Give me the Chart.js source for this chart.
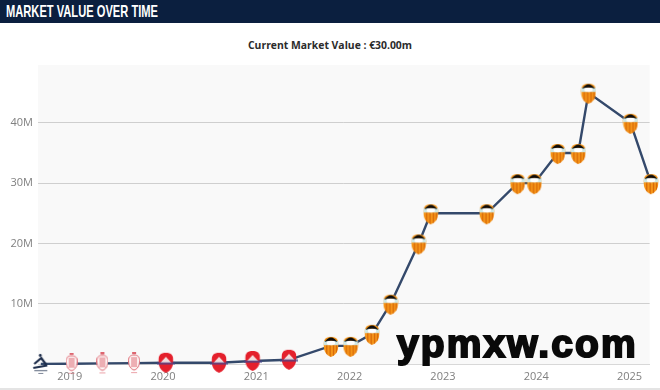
<!DOCTYPE html>
<html><head><meta charset="utf-8">
<style>
html,body{margin:0;padding:0;background:#fff;width:660px;height:390px;overflow:hidden;position:relative;font-family:"Open Sans",sans-serif}
#bar{position:absolute;left:0;top:0;width:660px;height:23px;background:#0b1f3f}
#head{position:absolute;left:6px;top:0;font:bold 17px/24px "Liberation Sans",sans-serif;color:#fff;transform-origin:0 0;transform:scaleX(.655);white-space:nowrap}
#sub{position:absolute;left:0;width:660px;top:37px;text-align:center;font:bold 10.4px/16px "Open Sans",sans-serif;color:#2b2b2b}
#foot{position:absolute;left:0;top:388px;width:660px;height:2px;background:#e4e4e4}
#wrap{position:absolute;left:0;top:23px;width:660px;height:365px}
#mark{position:absolute;left:397px;top:320px;font:bold 39px/48px "Liberation Sans",sans-serif;color:#0a0a0a;-webkit-text-stroke:2px #0a0a0a;letter-spacing:2.1px;white-space:nowrap}
</style>
<script src="https://cdn.jsdelivr.net/npm/chart.js@4"></script>
</head><body>
<div id="bar"></div><div id="head">MARKET VALUE OVER TIME</div>
<div id="sub"></div>
<div id="wrap"><canvas id="c" width="660" height="365"></canvas></div>
<div id="foot"></div>
<div id="mark">ypmxw.com</div>
<script>
const chartTitle = "Current Market Value : €30.00m";
const dates  = [2018.69,2019.02,2019.35,2019.69,2020.03,2020.60,2020.96,2021.35,2021.80,2022.01,2022.24,2022.44,2022.74,2022.87,2023.47,2023.80,2023.98,2024.23,2024.45,2024.56,2025.01,2025.23];
const values = [0.02,0.05,0.1,0.15,0.2,0.2,0.5,0.7,3,3,5,10,20,25,25,30,30,35,35,45,40,30];
const clubs  = ["d","m","m","m","r","r","r","r","v","v","v","v","v","v","v","v","v","v","v","v","v","v"];
const yearTicks = [2019,2020,2021,2022,2023,2024,2025];
document.getElementById('sub').textContent = chartTitle;

function shield(g,w,h){
  g.beginPath();g.moveTo(w*.5,0);
  g.bezierCurveTo(w*.85,0,w,h*.12,w,h*.38);
  g.bezierCurveTo(w,h*.74,w*.78,h*.94,w*.5,h);
  g.bezierCurveTo(w*.22,h*.94,0,h*.74,0,h*.38);
  g.bezierCurveTo(0,h*.12,w*.15,0,w*.5,0);g.closePath();
}
function valencia(){
  const c=document.createElement('canvas');c.width=16;c.height=24;const g=c.getContext('2d');
  g.translate(.5,3);
  g.save();shield(g,15,20);g.clip();
  g.fillStyle='#f5961a';g.fillRect(0,0,15,20);
  g.fillStyle='#d96a08';[2.6,6,9.4,12.4].forEach(x=>g.fillRect(x,8,1.3,12));
  g.fillStyle='#cfe8e4';g.fillRect(0,4,15,4.2);
  g.fillStyle='#fff';g.beginPath();g.ellipse(7.5,6,4.2,2.2,0,0,Math.PI*2);g.fill();
  g.fillStyle='#0c0c0c';g.beginPath();g.moveTo(1,5);g.quadraticCurveTo(7.5,-4,14,5);g.quadraticCurveTo(7.5,2.6,1,5);g.fill();
  g.restore();return c;
}
function redCrest(){
  const c=document.createElement('canvas');c.width=18;c.height=22;const g=c.getContext('2d');
  g.save();g.translate(1.5,1);shield(g,15,20);g.clip();
  g.fillStyle='#e4202c';g.fillRect(0,0,15,20);
  g.fillStyle='#f3dede';g.beginPath();g.moveTo(2,10);g.lineTo(7.5,4);g.lineTo(13,10);g.closePath();g.fill();
  g.restore();
  g.fillStyle='rgba(70,70,140,.75)';g.fillRect(0,10.5,18,2.2);
  return c;
}
function monaco(){
  const c=document.createElement('canvas');c.width=12;c.height=22;const g=c.getContext('2d');
  g.strokeStyle='#dd6670';g.fillStyle='#dd6670';g.lineWidth=1;
  g.fillRect(4,0,4,2);
  g.save();g.translate(.5,3);shield(g,11,15);g.fillStyle='#fdf6f6';g.fill();g.stroke();
  [3.5,5.5,7.5].forEach(x=>{g.beginPath();g.moveTo(x,2);g.lineTo(x,12);g.stroke();});
  g.restore();
  g.fillStyle='rgba(221,102,112,.6)';g.fillRect(3,20,6,1);
  return c;
}
function dive(){
  const c=document.createElement('canvas');c.width=17;c.height=22;const g=c.getContext('2d');
  g.fillStyle='#1c2c4a';
  g.beginPath();g.arc(8,2.5,1.4,0,Math.PI*2);g.fill();
  g.lineWidth=2.2;g.strokeStyle='#1c2c4a';
  g.beginPath();g.moveTo(2,11);g.lineTo(9,5);g.lineTo(14,12);g.stroke();
  g.beginPath();g.moveTo(1,15);g.lineTo(15,12.5);g.stroke();
  g.fillStyle='#7f8899';g.fillRect(2,17,13,1.3);g.fillRect(6,20,5,1);
  return c;
}
const crestSet = {v:valencia(),r:redCrest(),m:monaco(),d:dive()};

const plotBg = {id:'plotBg',beforeDraw(ch){const a=ch.chartArea,g=ch.ctx;g.save();g.fillStyle='#f9f9f9';g.fillRect(a.left,a.top,a.right-a.left,a.bottom-a.top);g.restore();}};

new Chart(document.getElementById('c'),{
  type:'line',
  data:{datasets:[{
    data:dates.map((d,i)=>({x:d,y:values[i]})),
    borderColor:'#34496b',borderWidth:2.4,tension:0,clip:false,
    pointStyle:clubs.map(k=>crestSet[k]),pointRadius:8,pointHoverRadius:8
  }]},
  options:{
    responsive:false,animation:false,
    layout:{padding:{left:0,right:10,top:42,bottom:0}},
    plugins:{legend:{display:false},tooltip:{enabled:false},title:{display:false}},
    scales:{
      x:{type:'linear',min:2018.66,max:2025.215,
        afterBuildTicks(s){s.ticks=yearTicks.map(v=>({value:v}));},
        afterFit(s){s.height=24;},
        grid:{display:false,drawTicks:true,tickLength:4,color:'#ccc'},border:{color:'#d8d8d8'},
        ticks:{color:'#808080',font:{family:'"Open Sans"',size:11},padding:2,maxRotation:0,autoSkip:false,callback:v=>String(v)}},
      y:{min:0,max:49.6,
        afterBuildTicks(s){s.ticks=[0,10,20,30,40].map(v=>({value:v}));},
        afterFit(s){s.width=38;},
        grid:{color:'#cfcfcf',lineWidth:1,drawTicks:false},border:{display:false},
        ticks:{color:'#808080',font:{family:'"Open Sans"',size:11},padding:5,callback:v=>v===0?'':v+'M'}}
    }
  },
  plugins:[plotBg]
});
</script>
</body></html>
